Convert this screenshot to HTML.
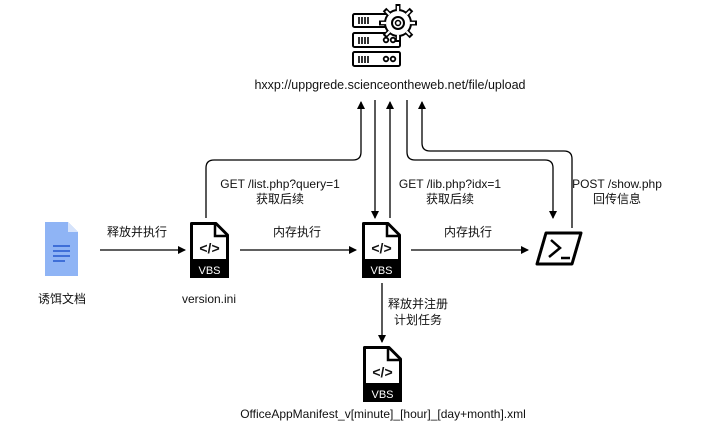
<!DOCTYPE html>
<html><head><meta charset="utf-8"><style>
html,body{margin:0;padding:0;background:#fff;}
svg{display:block;}
text{font-family:"Liberation Sans","Noto Sans CJK SC",sans-serif;font-size:12px;fill:#111;}
</style></head><body>
<svg width="724" height="442" viewBox="0 0 724 442" xmlns="http://www.w3.org/2000/svg">
<defs>
<marker id="ar" markerWidth="8" markerHeight="8" refX="7" refY="4" orient="auto" markerUnits="userSpaceOnUse">
<path d="M0,0 L8,4 L0,8 z" fill="#000"/></marker>
<g id="vbs">
<path d="M1.5,1.5 H26 L37.5,13 V54.5 H1.5 Z" fill="#fff" stroke="#000" stroke-width="3" stroke-linejoin="round"/>
<path d="M25,1.5 V14 H37.5" fill="none" stroke="#000" stroke-width="2.5"/>
<rect x="0" y="37" width="39" height="19" fill="#000"/>
<text x="19.5" y="52" text-anchor="middle" style="fill:#fff;font-size:11px">VBS</text>
<text x="19.5" y="31" text-anchor="middle" style="font-size:14px;font-weight:bold">&lt;/&gt;</text>
</g>
</defs>

<!-- server icon -->
<g fill="#fff" stroke="#000" stroke-width="2">
<rect x="353" y="14" width="36" height="13" rx="1.5"/>
<rect x="353" y="33" width="47" height="14" rx="1.5"/>
<rect x="353" y="52" width="47" height="14" rx="1.5"/>
</g>
<g stroke="#000" stroke-width="2" stroke-linecap="butt">
<path d="M398,4v6M398,36v6M379,23h6M411,23h6M384.5,9.5l4.2,4.2M407.3,32.3l4.2,4.2M411.5,9.5l-4.2,4.2M388.7,32.3l-4.2,4.2" stroke-width="5"/>
</g>
<circle cx="398" cy="23" r="13" fill="#fff" stroke="#000" stroke-width="2"/>
<g stroke="#fff" stroke-width="2.2">
<path d="M398,6v5M398,35v5M381,23h5M410,23h5M386,11l3.5,3.5M406.5,31.5l3.5,3.5M410,11l-3.5,3.5M389.5,31.5l-3.5,3.5"/>
</g>
<circle cx="398" cy="23" r="6" fill="#fff" stroke="#000" stroke-width="2"/>
<circle cx="398" cy="23" r="2.5" fill="none" stroke="#000" stroke-width="1.5"/>
<g fill="none" stroke="#000" stroke-width="1.8">
<circle cx="386" cy="40" r="2.3"/><circle cx="393" cy="40" r="2.3"/>
<circle cx="386" cy="59" r="2.3"/><circle cx="393" cy="59" r="2.3"/>
</g>
<g stroke="#000" stroke-width="1.6">
<path d="M359,17v7M362,17v7M365,17v7M368,17v7M359,37v7M362,37v7M365,37v7M368,37v7M359,56v7M362,56v7M365,56v7M368,56v7"/>
</g>
<text x="390" y="89" text-anchor="middle" style="font-size:12.5px">hxxp://uppgrede.scienceontheweb.net/file/upload</text>

<!-- connectors -->
<g fill="none" stroke="#000" stroke-width="1.3">
<path d="M206,218 V168 Q206,160 214,160 H353 Q361,160 361,152 V102" marker-end="url(#ar)"/>
<path d="M375,100 V218" marker-end="url(#ar)"/>
<path d="M390,218 V102" marker-end="url(#ar)"/>
<path d="M407,100 V152 Q407,160 415,160 H545 Q553,160 553,168 V218" marker-end="url(#ar)"/>
<path d="M572,228 V159 Q572,151 564,151 H430 Q422,151 422,143 V102" marker-end="url(#ar)"/>
<path d="M100,250 H185" marker-end="url(#ar)"/>
<path d="M240,250 H356" marker-end="url(#ar)"/>
<path d="M411,250 H528" marker-end="url(#ar)"/>
<path d="M382,283 V342" marker-end="url(#ar)"/>
</g>

<text x="280" y="188" text-anchor="middle">GET /list.php?query=1</text>
<text x="280" y="203" text-anchor="middle">获取后续</text>
<text x="450" y="188" text-anchor="middle">GET /lib.php?idx=1</text>
<text x="450" y="203" text-anchor="middle">获取后续</text>
<text x="617" y="188" text-anchor="middle">POST /show.php</text>
<text x="617" y="203" text-anchor="middle">回传信息</text>
<text x="137" y="236" text-anchor="middle">释放并执行</text>
<text x="297" y="236" text-anchor="middle">内存执行</text>
<text x="468" y="236" text-anchor="middle">内存执行</text>
<text x="418" y="308" text-anchor="middle">释放并注册</text>
<text x="418" y="324" text-anchor="middle">计划任务</text>

<!-- bait doc -->
<path d="M45,222 H68 L78,232 V276 H45 Z" fill="#8fb4f5"/>
<path d="M68,222 V232 H78 Z" fill="#d6e3fb"/>
<g stroke="#3f6fd8" stroke-width="2"><path d="M53,246h17M53,251h17M53,256h17M53,261h12"/></g>
<text x="62" y="303" text-anchor="middle">诱饵文档</text>

<use href="#vbs" x="190" y="222"/>
<text x="209" y="303" text-anchor="middle">version.ini</text>
<use href="#vbs" x="362" y="222"/>
<use href="#vbs" x="363" y="346"/>
<text x="383" y="418" text-anchor="middle">OfficeAppManifest_v[minute]_[hour]_[day+month].xml</text>

<!-- powershell -->
<path d="M546,233 H581 L572,264 H537 Z" fill="#fff" stroke="#000" stroke-width="3" stroke-linejoin="round"/>
<path d="M551,240 L560,248 L549,257" fill="none" stroke="#000" stroke-width="2.5"/>
<path d="M561,258 H570" stroke="#000" stroke-width="2.5"/>
</svg>
</body></html>
